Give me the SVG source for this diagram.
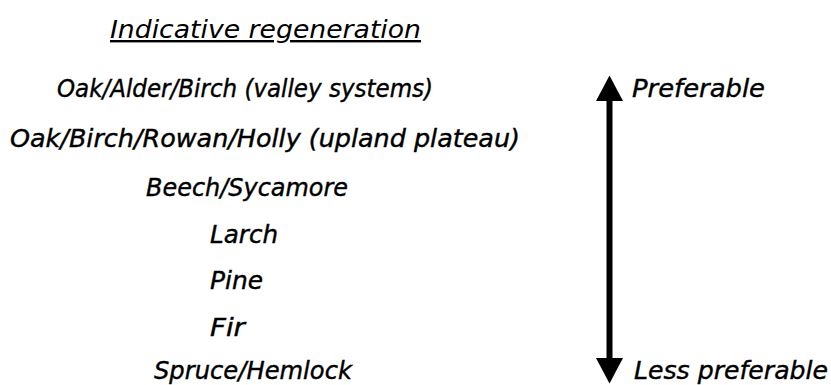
<svg xmlns="http://www.w3.org/2000/svg" width="831" height="385" viewBox="0 0 831 385">
<style>
  text { font-family: "DejaVu Sans", Verdana, sans-serif; font-style: italic; font-size: 24px; fill: #000; }
  .row { stroke: #000; stroke-width: 0.4px; }
  .title { text-decoration: underline; }
</style>
<defs>
  <marker id="head" markerUnits="userSpaceOnUse" markerWidth="26" markerHeight="28" refX="0" refY="13.5" orient="auto-start-reverse">
    <path d="M0,0 L25.5,13.5 L0,27 Z" fill="#000"/>
  </marker>
</defs>
<rect width="831" height="385" fill="#fff"/>
<g id="title"><text class="title" x="110" y="38" textLength="311" lengthAdjust="spacingAndGlyphs">Indicative regeneration</text></g>
<g id="oak-alder-birch"><text class="row" x="57" y="97" textLength="376" lengthAdjust="spacingAndGlyphs">Oak/Alder/Birch (valley systems)</text></g>
<g id="oak-birch-rowan-holly"><text class="row" x="10" y="147" textLength="510" lengthAdjust="spacingAndGlyphs">Oak/Birch/Rowan/Holly (upland plateau)</text></g>
<g id="beech-sycamore"><text class="row" x="146" y="196" textLength="202" lengthAdjust="spacingAndGlyphs">Beech/Sycamore</text></g>
<g id="larch"><text class="row" x="210" y="243" textLength="68" lengthAdjust="spacingAndGlyphs">Larch</text></g>
<g id="pine"><text class="row" x="210" y="289" textLength="53" lengthAdjust="spacingAndGlyphs">Pine</text></g>
<g id="fir"><text class="row" x="210" y="336" textLength="35" lengthAdjust="spacingAndGlyphs">Fir</text></g>
<g id="spruce-hemlock"><text class="row" x="154" y="379" textLength="198" lengthAdjust="spacingAndGlyphs">Spruce/Hemlock</text></g>
<g id="preferable"><text class="row" x="632" y="97" textLength="133" lengthAdjust="spacingAndGlyphs">Preferable</text></g>
<g id="less-preferable"><text class="row" x="634" y="379" textLength="194" lengthAdjust="spacingAndGlyphs">Less preferable</text></g>
<g id="connectors">
  <line x1="609.5" y1="101" x2="609.5" y2="358" stroke="#000" stroke-width="6" marker-start="url(#head)" marker-end="url(#head)"/>
</g>
</svg>
